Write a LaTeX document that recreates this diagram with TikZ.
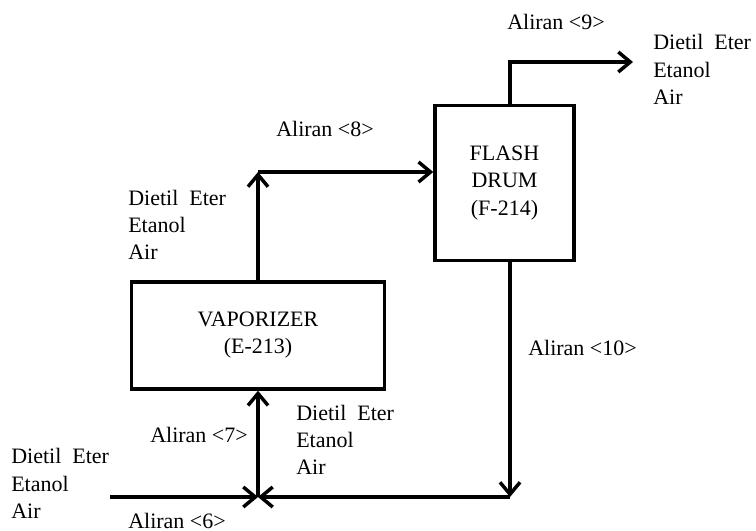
\documentclass[tikz,border=0pt]{standalone}
\usepackage{fontspec}
\setmainfont{Liberation Serif}
\usetikzlibrary{arrows.meta}
\begin{document}
\begin{tikzpicture}[x=0.75pt,y=-0.75pt,
  flow/.style={line width=2.6pt,line join=miter},
  arr/.style={flow,-{Straight Barb[length=9pt,width=15pt]}},
  unit/.style={draw,line width=2.6pt,inner sep=0pt,align=center,font=\fontsize{16.5}{20.3}\selectfont},
  lbl/.style={anchor=base west,inner sep=0pt,font=\fontsize{16.5}{20.6}\selectfont}]
\useasboundingbox (0,0) rectangle (756,531);
% units
\node[unit,minimum width=189.75pt,minimum height=80.25pt] (vap) at (258,335.5) {VAPORIZER\\(E-213)};
\node[unit,minimum width=104.25pt,minimum height=116.25pt] (flash) at (504.5,183) {FLASH\\DRUM\\(F-214)};
% points
\coordinate (c8) at (258,172);
\coordinate (c9) at (510,62);
\coordinate (out9) at (633,62);
\coordinate (j10) at (510,497);
\coordinate (mix) at (258,497);
\coordinate (feed) at (110,497);
% connectors
\draw[arr] (vap.north) -- (c8);
\draw[arr] (c8) -- (flash.west |- c8);
\draw[arr] (flash.north -| c9) -- (c9) -- (out9);
\draw[arr] (flash.south -| j10) -- (j10);
\draw[arr] (j10) -- (mix);
\draw[arr] (feed) -- (mix);
\draw[arr] (mix) -- (vap.south);
% labels
\node[lbl] (l9) at (507,30) {Aliran <9>};
\node[lbl] (s9a) at (653,50) {Dietil\ \ Eter};
\node[lbl] (s9b) at (653,77.5) {Etanol};
\node[lbl] (s9c) at (653,105) {Air};
\node[lbl] (l8) at (276,137) {Aliran <8>};
\node[lbl] (s8a) at (128,205) {Dietil\ \ Eter};
\node[lbl] (s8b) at (128,232) {Etanol};
\node[lbl] (s8c) at (128,259) {Air};
\node[lbl] (l10) at (528,355) {Aliran <10>};
\node[lbl] (s7a) at (296,420) {Dietil\ \ Eter};
\node[lbl] (s7b) at (296,447) {Etanol};
\node[lbl] (s7c) at (296,474) {Air};
\node[lbl] (l7) at (150,442) {Aliran <7>};
\node[lbl] (s6a) at (11,463) {Dietil\ \ Eter};
\node[lbl] (s6b) at (11,491) {Etanol};
\node[lbl] (s6c) at (11,518) {Air};
\node[lbl] (l6) at (128,528) {Aliran <6>};
\end{tikzpicture}
\end{document}
